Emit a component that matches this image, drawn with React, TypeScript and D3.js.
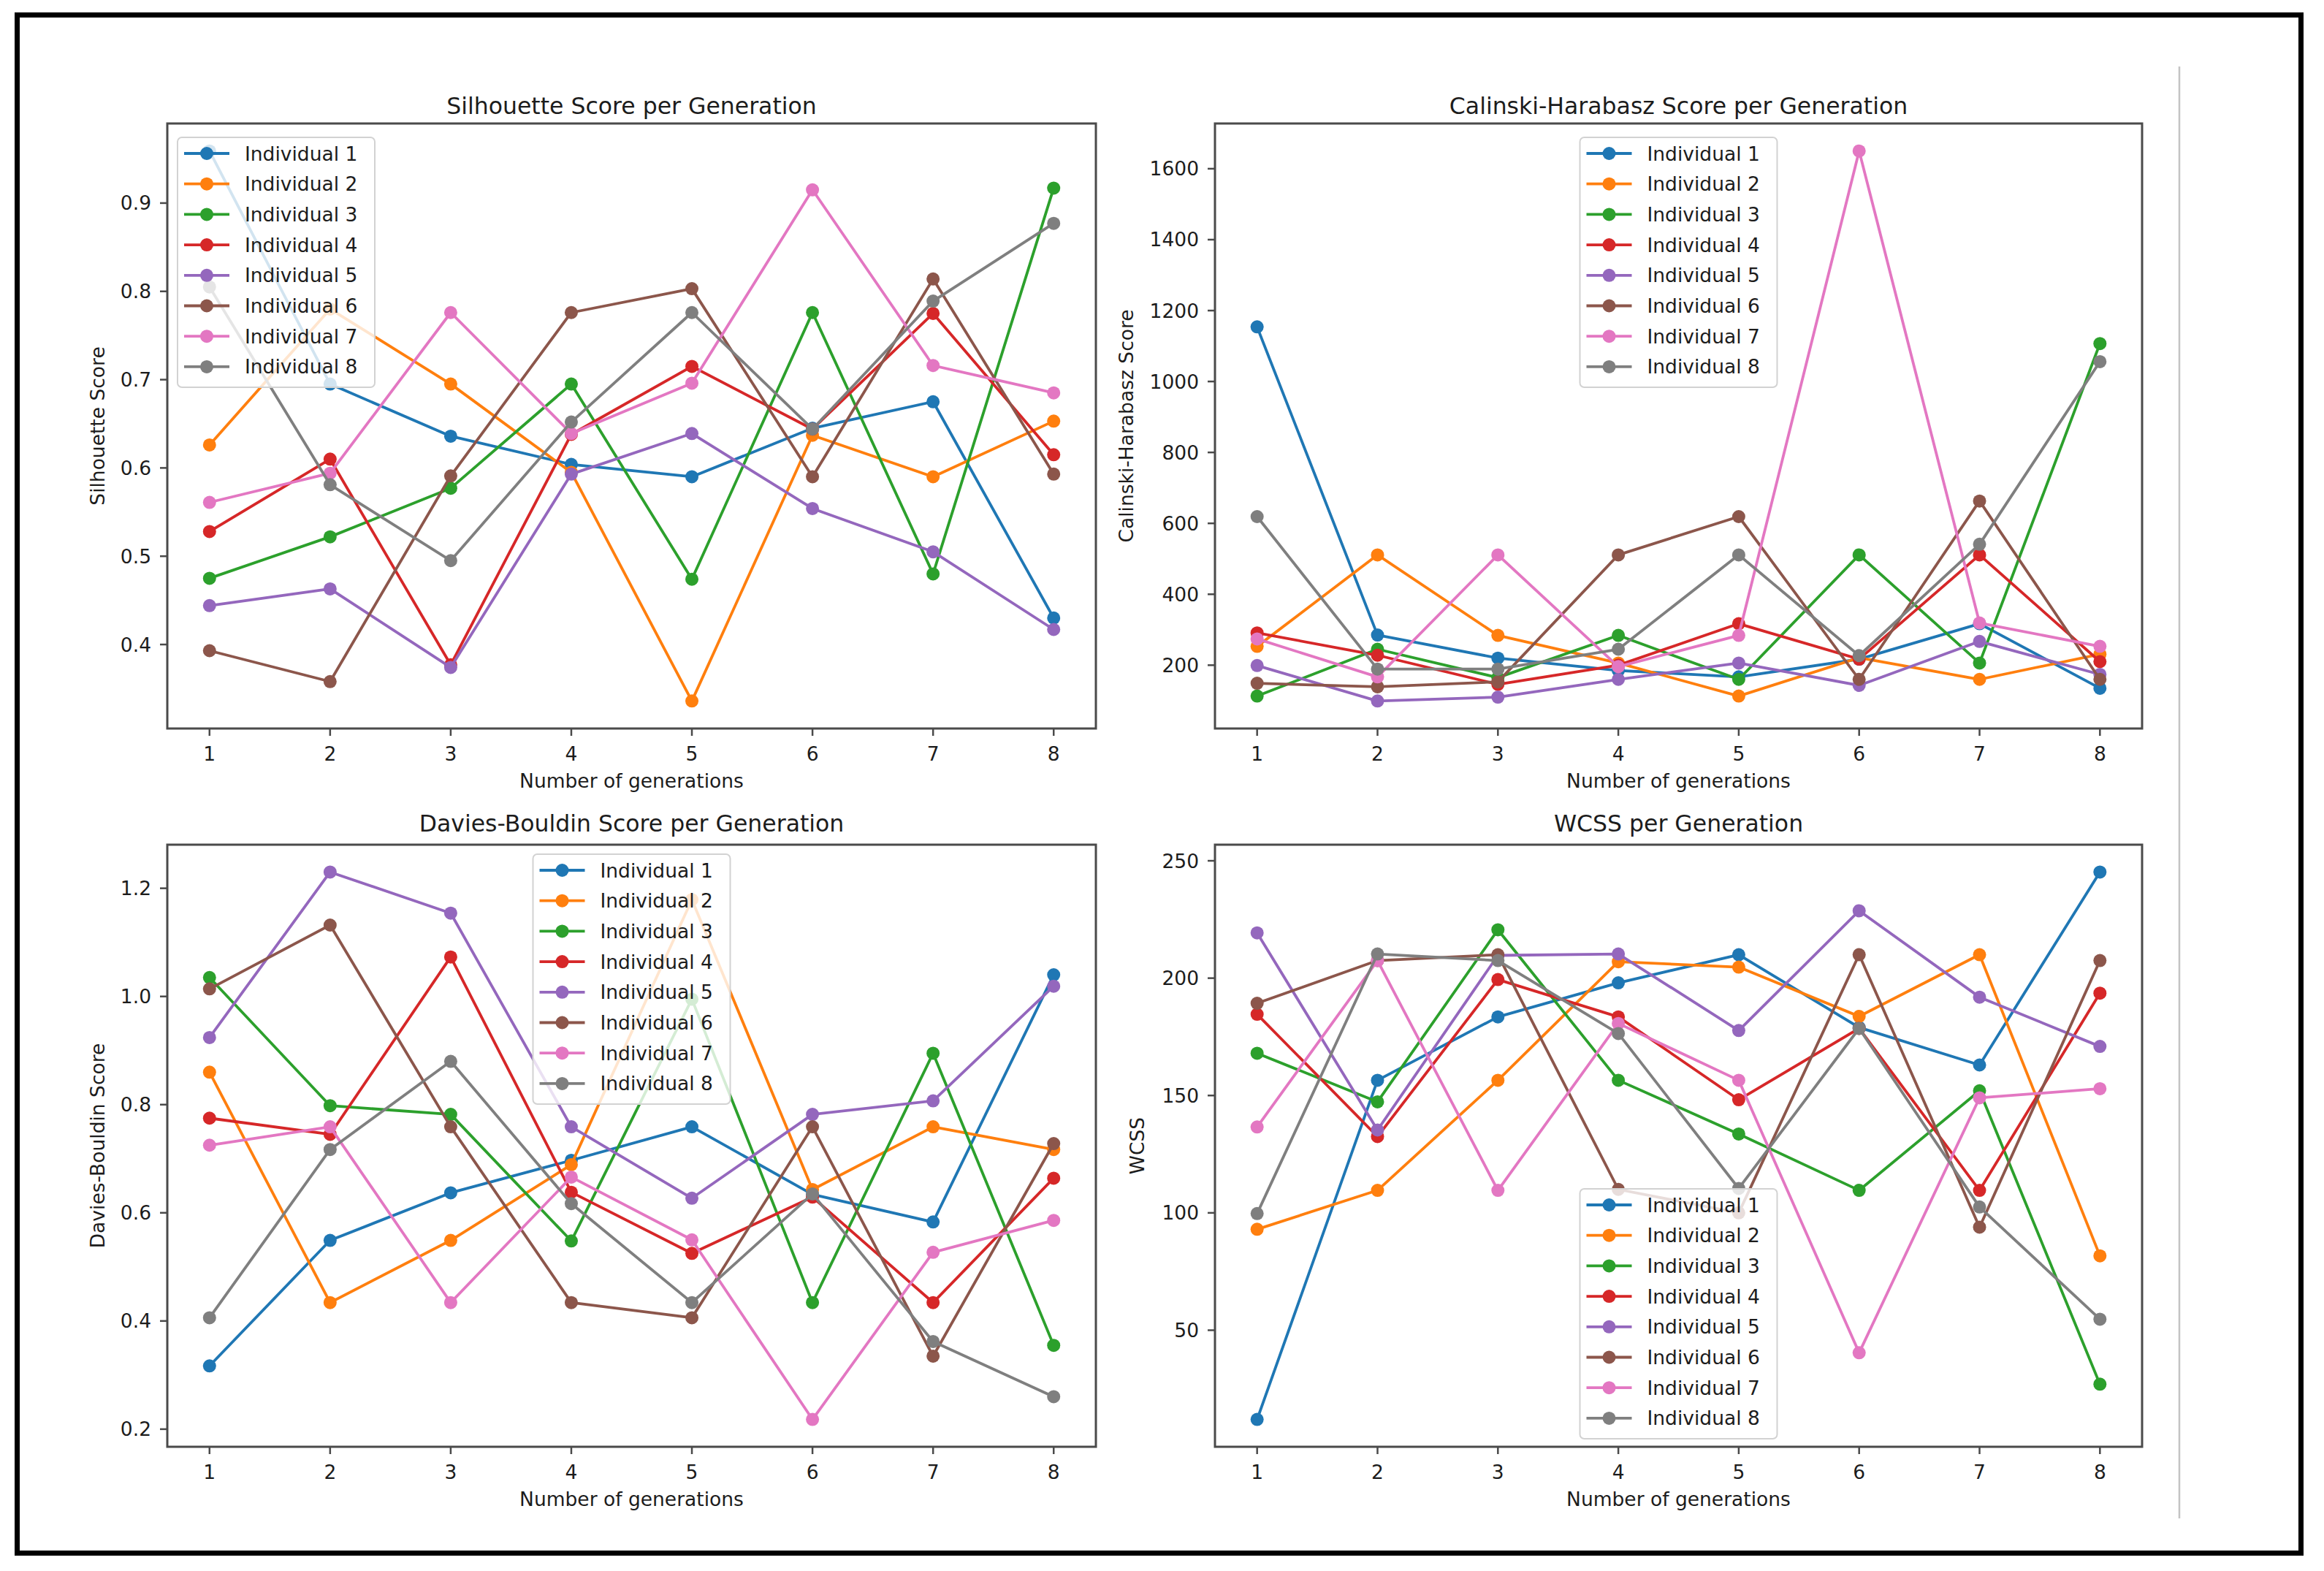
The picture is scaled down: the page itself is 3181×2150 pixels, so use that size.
import React from "react";
import * as d3 from "d3";

const generations = [1, 2, 3, 4, 5, 6, 7, 8];
const individuals = [
  "Individual 1", "Individual 2", "Individual 3", "Individual 4",
  "Individual 5", "Individual 6", "Individual 7", "Individual 8",
];
const colors = ["#1f77b4", "#ff7f0e", "#2ca02c", "#d62728", "#9467bd", "#8c564b", "#e377c2", "#7f7f7f"];

const silhouetteScores = [
  [0.959, 0.695, 0.636, 0.604, 0.590, 0.645, 0.675, 0.430],
  [0.626, 0.780, 0.695, 0.595, 0.336, 0.637, 0.590, 0.653],
  [0.475, 0.522, 0.577, 0.695, 0.474, 0.776, 0.480, 0.917],
  [0.528, 0.610, 0.377, 0.638, 0.715, 0.644, 0.775, 0.615],
  [0.444, 0.463, 0.374, 0.593, 0.639, 0.554, 0.505, 0.417],
  [0.393, 0.358, 0.591, 0.776, 0.803, 0.590, 0.814, 0.593],
  [0.561, 0.594, 0.776, 0.639, 0.696, 0.915, 0.716, 0.685],
  [0.805, 0.581, 0.495, 0.652, 0.776, 0.644, 0.789, 0.877],
];
const calinskiScores = [
  [1154, 285, 220, 185, 167, 217, 317, 135],
  [253, 511, 284, 206, 113, 221, 160, 231],
  [113, 245, 165, 284, 160, 511, 206, 1107],
  [291, 228, 146, 200, 317, 217, 511, 210],
  [199, 99, 110, 160, 206, 143, 267, 174],
  [149, 139, 153, 511, 619, 160, 663, 160],
  [274, 167, 511, 196, 284, 1650, 319, 253],
  [619, 189, 189, 245, 511, 227, 541, 1056],
];
const daviesScores = [
  [0.317, 0.549, 0.637, 0.697, 0.759, 0.634, 0.583, 1.040],
  [0.860, 0.434, 0.549, 0.689, 1.179, 0.643, 0.759, 0.717],
  [1.035, 0.798, 0.782, 0.548, 0.995, 0.434, 0.895, 0.355],
  [0.775, 0.745, 1.073, 0.638, 0.525, 0.629, 0.434, 0.664],
  [0.924, 1.230, 1.154, 0.759, 0.627, 0.782, 0.807, 1.019],
  [1.014, 1.132, 0.759, 0.434, 0.406, 0.759, 0.335, 0.728],
  [0.725, 0.759, 0.434, 0.666, 0.550, 0.218, 0.527, 0.586],
  [0.406, 0.717, 0.880, 0.617, 0.434, 0.635, 0.362, 0.260],
];
const wcssScores = [
  [12, 156.5, 183.5, 198, 210, 179, 163, 245.2],
  [93, 109.6, 156.5, 207, 204.7, 183.7, 210, 81.7],
  [168, 147.3, 220.6, 156.5, 133.6, 109.6, 152, 27],
  [184.6, 132.5, 199.4, 183.5, 148.2, 178.6, 109.6, 193.6],
  [219.3, 135.3, 209.7, 210.3, 177.7, 228.7, 191.9, 170.9],
  [189.3, 207.5, 210, 110, 100, 210, 93.9, 207.5],
  [136.6, 207.5, 109.6, 180.7, 156.5, 40.4, 149, 152.9],
  [99.7, 210.3, 207.5, 176.4, 110.4, 178.6, 102.5, 54.7],
];

const silhouetteTicks = [0.4, 0.5, 0.6, 0.7, 0.8, 0.9];
const calinskiTicks = [200, 400, 600, 800, 1000, 1200, 1400, 1600];
const daviesTicks = [0.2, 0.4, 0.6, 0.8, 1.0, 1.2];
const wcssTicks = [50, 100, 150, 200, 250];

const FONT = "'DejaVu Sans', Verdana, sans-serif";
const TEXT = "#1c1c1c";

type PanelProps = {
  x0: number; y0: number; w: number; h: number;
  title: string; titleY: number; ylabel: string; ylabelX: number;
  values: number[][]; ticks: number[]; fmt: (v: number) => string;
  legend: "upper left" | "upper center" | "lower center"; legendPad: number;
};

function Panel(p: PanelProps) {
  const [gx0, gx1] = d3.extent(generations) as [number, number];
  const xm = (gx1 - gx0) * 0.05;
  const xScale = d3.scaleLinear().domain([gx0 - xm, gx1 + xm]).range([p.x0, p.x0 + p.w]);
  const [mn, mx] = d3.extent(p.values.flat()) as [number, number];
  const ym = (mx - mn) * 0.05;
  const yScale = d3.scaleLinear().domain([mn - ym, mx + ym]).range([p.y0 + p.h, p.y0]);
  const line = d3.line<number>().x((_, i) => xScale(generations[i])).y((d) => yScale(d));

  const lw = 270, lh = 342;
  const cx = p.x0 + p.w / 2;
  let lx = p.x0 + 14, ly = p.y0 + p.legendPad;
  if (p.legend === "upper center") { lx = cx - lw / 2; }
  if (p.legend === "lower center") { lx = cx - lw / 2; ly = p.y0 + p.h - p.legendPad - lh; }

  return (
    <g>
      {p.values.map((vals, s) => (
        <g key={s}>
          <path d={line(vals) || ""} fill="none" stroke={colors[s]} strokeWidth={3.8} strokeLinejoin="round" />
          {vals.map((v, i) => (
            <circle key={i} cx={xScale(generations[i])} cy={yScale(v)} r={9} fill={colors[s]} />
          ))}
        </g>
      ))}
      <g>
        <rect x={lx} y={ly} width={lw} height={lh} rx={6} fill="#ffffff" fillOpacity={0.8} stroke="#d2d2d2" strokeWidth={2} />
        {individuals.map((name, s) => {
          const yy = ly + 22 + s * 41.7;
          return (
            <g key={s}>
              <line x1={lx + 9} x2={lx + 71} y1={yy} y2={yy} stroke={colors[s]} strokeWidth={3.8} />
              <circle cx={lx + 40} cy={yy} r={9} fill={colors[s]} />
              <text x={lx + 92} y={yy} dominantBaseline="central" fontSize={26.5} fontFamily={FONT} fill={TEXT}>{name}</text>
            </g>
          );
        })}
      </g>
      <rect x={p.x0} y={p.y0} width={p.w} height={p.h} fill="none" stroke="#4a4a4a" strokeWidth={3} />
      {generations.map((g) => (
        <g key={g}>
          <line x1={xScale(g)} x2={xScale(g)} y1={p.y0 + p.h} y2={p.y0 + p.h + 10} stroke="#4a4a4a" strokeWidth={2.5} />
          <text x={xScale(g)} y={p.y0 + p.h + 34} textAnchor="middle" dominantBaseline="central" fontSize={26.5} fontFamily={FONT} fill={TEXT}>{g}</text>
        </g>
      ))}
      {p.ticks.map((t) => (
        <g key={t}>
          <line x1={p.x0 - 10} x2={p.x0} y1={yScale(t)} y2={yScale(t)} stroke="#4a4a4a" strokeWidth={2.5} />
          <text x={p.x0 - 22} y={yScale(t)} textAnchor="end" dominantBaseline="central" fontSize={26.5} fontFamily={FONT} fill={TEXT}>{p.fmt(t)}</text>
        </g>
      ))}
      <text x={cx} y={p.y0 + p.h + 71} textAnchor="middle" dominantBaseline="central" fontSize={26.5} fontFamily={FONT} fill={TEXT}>Number of generations</text>
      <text transform={`translate(${p.ylabelX},${p.y0 + p.h / 2}) rotate(-90)`} textAnchor="middle" dominantBaseline="central" fontSize={26.5} fontFamily={FONT} fill={TEXT}>{p.ylabel}</text>
      <text x={cx} y={p.titleY} textAnchor="middle" dominantBaseline="central" fontSize={31.5} fontFamily={FONT} fill={TEXT}>{p.title}</text>
    </g>
  );
}

const f1 = (v: number) => d3.format(".1f")(v);
const f0 = (v: number) => d3.format("d")(v);

export default function App() {
  return (
    <div style={{ position: "absolute", left: 0, top: 0, width: 3181, height: 2150, background: "#fff" }}>
      <svg width={3181} height={2150} viewBox="0 0 3181 2150" style={{ display: "block" }}>
        <rect x={0} y={0} width={3181} height={2150} fill="#ffffff" />
        <rect x={23.5} y={20.5} width={3126} height={2105} fill="none" stroke="#000" strokeWidth={7} />
        <line x1={2983} x2={2983} y1={91} y2={2078} stroke="#c4c4c4" strokeWidth={2.5} />
        <Panel x0={229} y0={169} w={1271} h={828} title="Silhouette Score per Generation" titleY={144.5}
          ylabel="Silhouette Score" ylabelX={133} values={silhouetteScores} ticks={silhouetteTicks} fmt={f1} legend="upper left" legendPad={19} />
        <Panel x0={1663} y0={169} w={1269} h={828} title="Calinski-Harabasz Score per Generation" titleY={144.5}
          ylabel="Calinski-Harabasz Score" ylabelX={1541} values={calinskiScores} ticks={calinskiTicks} fmt={f0} legend="upper center" legendPad={19} />
        <Panel x0={229} y0={1156} w={1271} h={824} title="Davies-Bouldin Score per Generation" titleY={1126.5}
          ylabel="Davies-Bouldin Score" ylabelX={133} values={daviesScores} ticks={daviesTicks} fmt={f1} legend="upper center" legendPad={13} />
        <Panel x0={1663} y0={1156} w={1269} h={824} title="WCSS per Generation" titleY={1126.5}
          ylabel="WCSS" ylabelX={1556} values={wcssScores} ticks={wcssTicks} fmt={f0} legend="lower center" legendPad={11} />
      </svg>
    </div>
  );
}
